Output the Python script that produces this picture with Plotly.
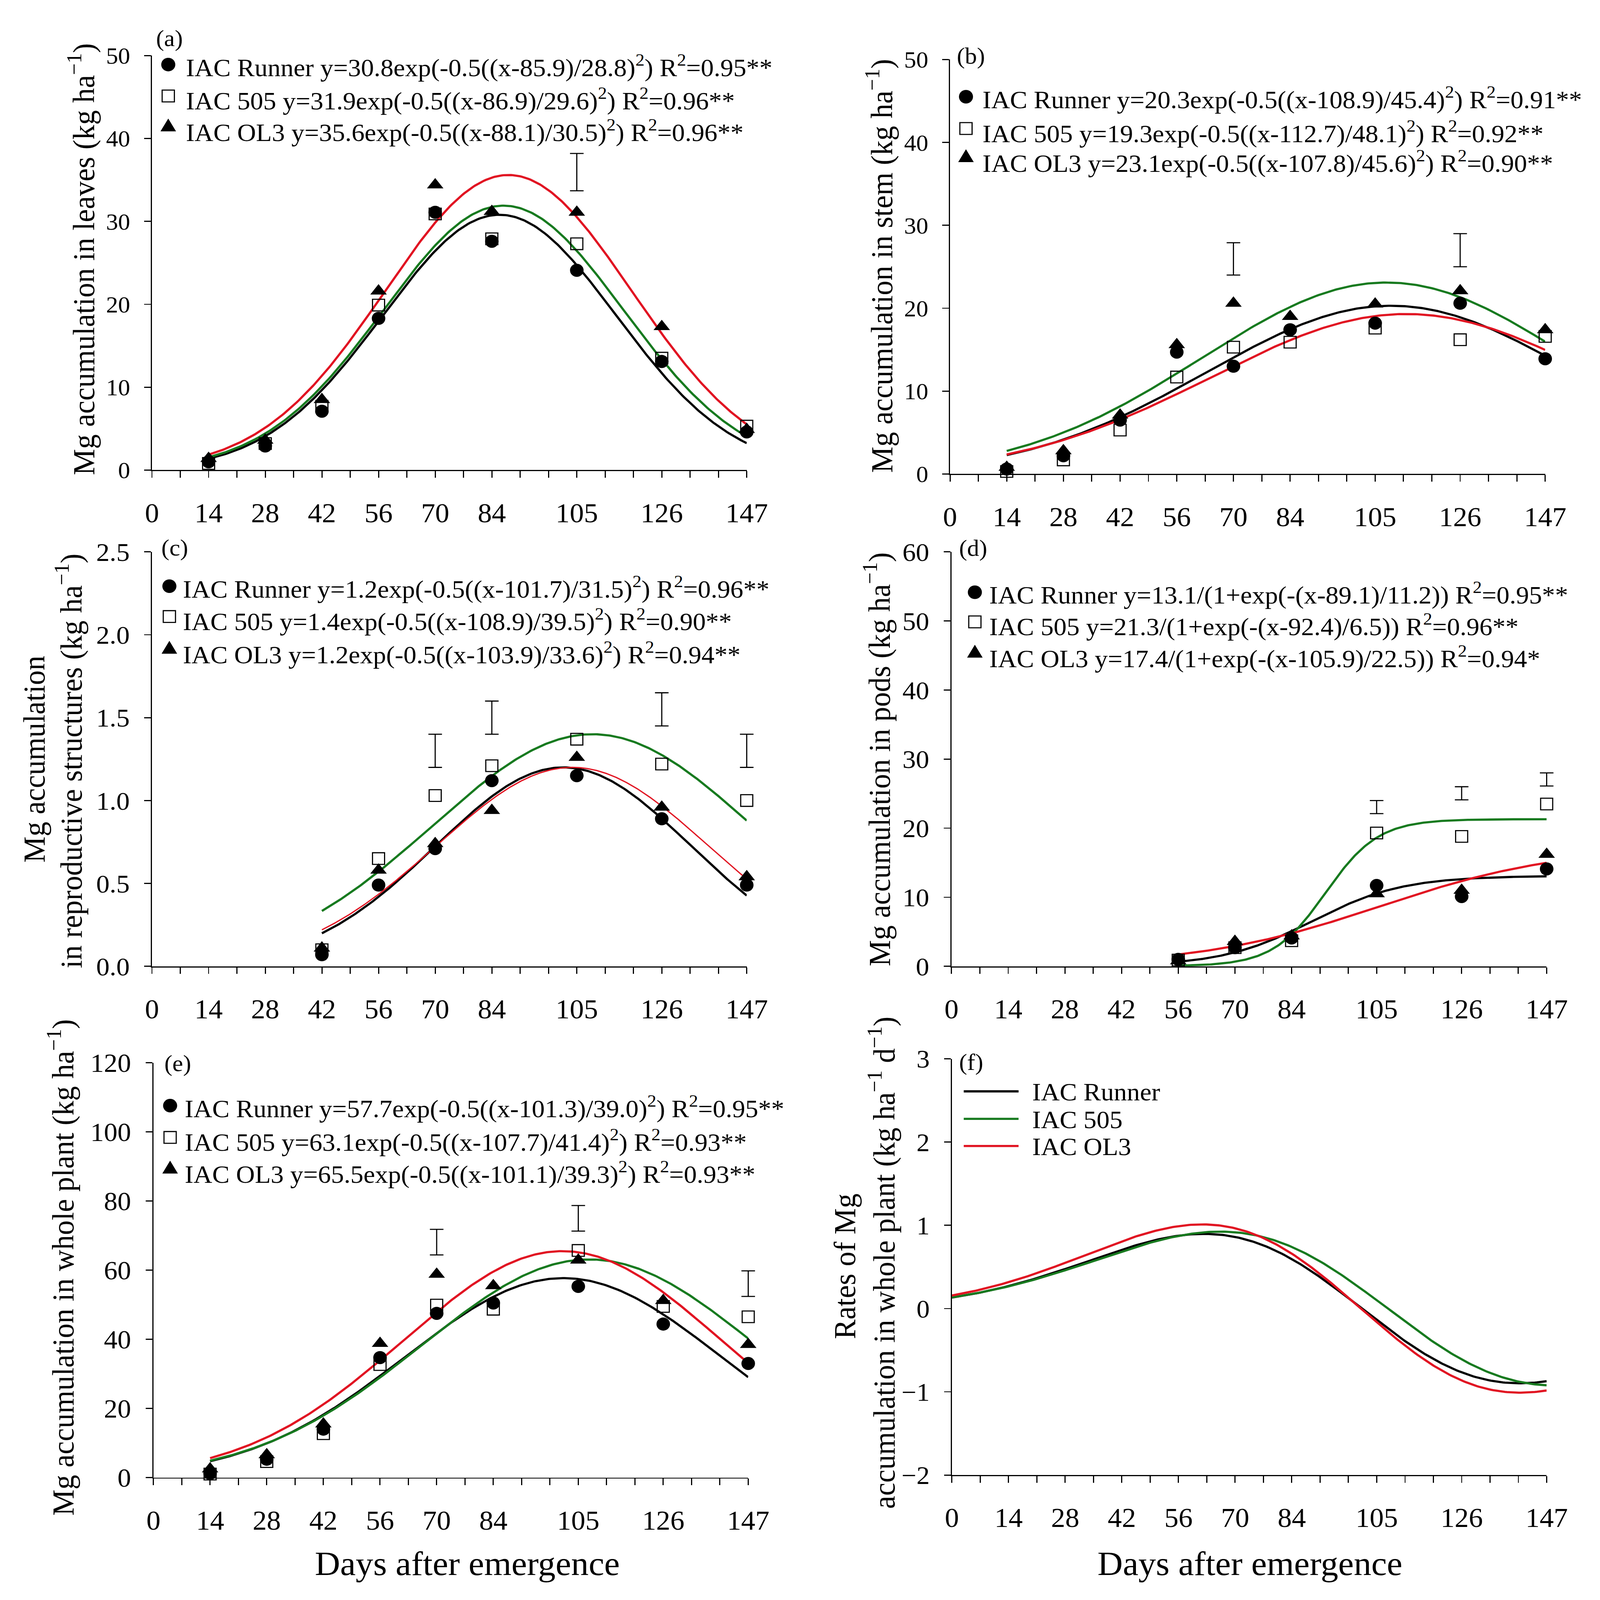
import numpy as np
import plotly.graph_objects as go

# ---------------------------------------------------------------- data
DAYS = [14, 28, 42, 56, 70, 84, 105, 126, 147]
DAYS_C = [42, 56, 70, 84, 105, 126, 147]
DAYS_D = [56, 70, 84, 105, 126, 147]
X_TICKS = [0, 14, 28, 42, 56, 70, 84, 105, 126, 147]
X_TICK_LABELS = ["0", "14", "28", "42", "56", "70", "84", "105", "126", "147"]

# (a) leaves
A_RUNNER = [1.0, 2.9, 7.1, 18.3, 31.1, 27.6, 24.1, 13.1, 4.6]
A_505 = [0.8, 3.2, 7.7, 19.9, 30.9, 27.9, 27.3, 13.5, 5.3]
A_OL3 = [1.4, 3.6, 8.5, 21.6, 34.4, 31.2, 31.1, 17.3, 4.9]
A_LSD_X = [105]
A_LSD_LO = [33.7]
A_LSD_HI = [38.2]

# (b) stem
B_RUNNER = [0.6, 2.2, 6.5, 14.7, 13.0, 17.4, 18.2, 20.6, 13.9]
B_505 = [0.3, 1.7, 5.3, 11.7, 15.3, 15.9, 17.6, 16.2, 16.6]
B_OL3 = [0.8, 2.8, 7.1, 15.6, 20.6, 19.0, 20.5, 22.1, 17.4]
B_LSD_X = [70, 126]
B_LSD_LO = [24.0, 25.0]
B_LSD_HI = [27.9, 29.0]

# (c) reproductive structures
C_RUNNER = [0.07, 0.49, 0.71, 1.12, 1.15, 0.89, 0.49]
C_505 = [0.10, 0.65, 1.03, 1.21, 1.37, 1.22, 1.00]
C_OL3 = [0.11, 0.58, 0.74, 0.94, 1.26, 0.96, 0.54]
C_LSD_X = [70, 84, 126, 147]
C_LSD_LO = [1.20, 1.40, 1.45, 1.20]
C_LSD_HI = [1.40, 1.60, 1.65, 1.40]

# (d) pods
D_RUNNER = [1.0, 2.7, 4.1, 11.7, 10.1, 14.1]
D_505 = [0.9, 2.7, 3.7, 19.3, 18.8, 23.5]
D_OL3 = [0.8, 3.6, 4.4, 10.5, 11.0, 16.2]
D_LSD_X = [105, 126, 147]
D_LSD_LO = [22.1, 24.1, 26.1]
D_LSD_HI = [24.0, 26.0, 28.0]

# (e) whole plant
E_RUNNER = [1.2, 5.3, 14.0, 34.7, 47.5, 50.5, 55.3, 44.4, 33.0]
E_505 = [1.0, 4.6, 12.7, 32.7, 49.9, 48.7, 65.7, 49.5, 46.5]
E_OL3 = [2.5, 6.6, 15.5, 38.8, 58.8, 55.5, 62.9, 51.2, 38.5]
E_LSD_X = [70, 105, 147]
E_LSD_LO = [64.4, 71.3, 52.4]
E_LSD_HI = [71.8, 78.7, 59.8]

# fitted-model parameters (amplitude, centre, width), as printed in each panel's legend
FIT_A = {"Runner": [30.8, 85.9, 28.8], "505": [31.9, 86.9, 29.6], "OL3": [35.6, 88.1, 30.5]}
FIT_B = {"Runner": [20.3, 108.9, 45.4], "505": [19.3, 112.7, 48.1], "OL3": [23.1, 107.8, 45.6]}
FIT_C = {"Runner": [1.2, 101.7, 31.5], "505": [1.4, 108.9, 39.5], "OL3": [1.2, 103.9, 33.6]}
FIT_D = {"Runner": [13.1, 89.1, 11.2], "505": [21.3, 92.4, 6.5], "OL3": [17.4, 105.9, 22.5]}
FIT_E = {"Runner": [57.7, 101.3, 39.0], "505": [63.1, 107.7, 41.4], "OL3": [65.5, 101.1, 39.3]}

LEG_A = ["IAC Runner y=30.8exp(-0.5((x-85.9)/28.8)<sup>2</sup>) R<sup>2</sup>=0.95**",
         "IAC 505 y=31.9exp(-0.5((x-86.9)/29.6)<sup>2</sup>) R<sup>2</sup>=0.96**",
         "IAC OL3 y=35.6exp(-0.5((x-88.1)/30.5)<sup>2</sup>) R<sup>2</sup>=0.96**"]
LEG_B = ["IAC Runner y=20.3exp(-0.5((x-108.9)/45.4)<sup>2</sup>) R<sup>2</sup>=0.91**",
         "IAC 505 y=19.3exp(-0.5((x-112.7)/48.1)<sup>2</sup>) R<sup>2</sup>=0.92**",
         "IAC OL3 y=23.1exp(-0.5((x-107.8)/45.6)<sup>2</sup>) R<sup>2</sup>=0.90**"]
LEG_C = ["IAC Runner y=1.2exp(-0.5((x-101.7)/31.5)<sup>2</sup>) R<sup>2</sup>=0.96**",
         "IAC 505 y=1.4exp(-0.5((x-108.9)/39.5)<sup>2</sup>) R<sup>2</sup>=0.90**",
         "IAC OL3 y=1.2exp(-0.5((x-103.9)/33.6)<sup>2</sup>) R<sup>2</sup>=0.94**"]
LEG_D = ["IAC Runner y=13.1/(1+exp(-(x-89.1)/11.2)) R<sup>2</sup>=0.95**",
         "IAC 505 y=21.3/(1+exp(-(x-92.4)/6.5)) R<sup>2</sup>=0.96**",
         "IAC OL3 y=17.4/(1+exp(-(x-105.9)/22.5)) R<sup>2</sup>=0.94*"]
LEG_E = ["IAC Runner y=57.7exp(-0.5((x-101.3)/39.0)<sup>2</sup>) R<sup>2</sup>=0.95**",
         "IAC 505 y=63.1exp(-0.5((x-107.7)/41.4)<sup>2</sup>) R<sup>2</sup>=0.93**",
         "IAC OL3 y=65.5exp(-0.5((x-101.1)/39.3)<sup>2</sup>) R<sup>2</sup>=0.93**"]
LEG_F = ["IAC Runner", "IAC 505", "IAC OL3"]

# ---------------------------------------------------------------- style
W, H = 4244, 4397
FONT = "Liberation Serif"
BLACK, GREEN, RED = "#000000", "#177a1f", "#e11422"
LW = 6
LEG_FONT = 69


def gauss(p, x):
    a, b, c = p
    return a * np.exp(-0.5 * ((x - b) / c) ** 2)


def gauss_rate(p, x):
    a, b, c = p
    return -a * (x - b) / c ** 2 * np.exp(-0.5 * ((x - b) / c) ** 2)


def logistic(p, x):
    a, b, c = p
    return a / (1 + np.exp(-(x - b) / c))


def px(x):
    return x / W


def py(y):
    return 1 - y / H


fig = go.Figure()

# panel geometry in pixels: x0, x1, ytop, ybottom ; y tick font size
PANELS = {
    "a": dict(n=1, box=(391, 1997, 116, 1276), yr=[0, 50], dt=10, yf=64),
    "b": dict(n=2, box=(2546, 4153, 127, 1287), yr=[0, 50], dt=10, yf=64),
    "c": dict(n=3, box=(391, 1997, 1505, 2665), yr=[0, 2.5], dt=0.5, yf=71),
    "d": dict(n=4, box=(2550, 4157, 1505, 2665), yr=[0, 60], dt=10, yf=71),
    "e": dict(n=5, box=(395, 2001, 2935, 4096), yr=[0, 120], dt=20, yf=72),
    "f": dict(n=6, box=(2551, 4157, 2924, 4089), yr=[-2, 3], dt=1, yf=70),
}
EXTRA = 70  # px of unclipped room to the right for the LSD bars


def axref(n):
    return ("x" if n == 1 else f"x{n}"), ("y" if n == 1 else f"y{n}")


def add_curve(n, x, y, color, width=LW):
    xa, ya = axref(n)
    fig.add_trace(go.Scatter(x=x, y=y, mode="lines", line=dict(color=color, width=width),
                             xaxis=xa, yaxis=ya, showlegend=False, hoverinfo="skip"))


def add_points(n, days, runner, c505, ol3):
    xa, ya = axref(n)
    fig.add_trace(go.Scatter(x=days, y=runner, mode="markers", xaxis=xa, yaxis=ya,
                             marker=dict(symbol="circle", size=36, color=BLACK),
                             cliponaxis=False, showlegend=False))
    fig.add_trace(go.Scatter(x=days, y=c505, mode="markers", xaxis=xa, yaxis=ya,
                             marker=dict(symbol="square-open", size=32, color=BLACK,
                                         line=dict(width=3, color=BLACK)),
                             cliponaxis=False, showlegend=False))
    fig.add_trace(go.Scatter(x=days, y=ol3, mode="markers", xaxis=xa, yaxis=ya,
                             marker=dict(symbol="triangle-up", size=38, color=BLACK),
                             cliponaxis=False, showlegend=False))


def add_lsd(n, xs, lo, hi):
    _, ya = axref(n)
    mid = [(l + h) / 2 for l, h in zip(lo, hi)]
    half = [(h - l) / 2 for l, h in zip(lo, hi)]
    fig.add_trace(go.Scatter(x=xs, y=mid, mode="markers", xaxis=f"x{n + 6}", yaxis=ya,
                             marker=dict(size=1, color="rgba(0,0,0,0)"),
                             error_y=dict(type="data", array=half, visible=True,
                                          color=BLACK, thickness=3, width=18),
                             cliponaxis=False, showlegend=False, hoverinfo="skip"))


# (a)
xa_ = np.linspace(14, 147, 300)
add_curve(1, xa_, gauss(FIT_A["Runner"], xa_), BLACK)
add_curve(1, xa_, gauss(FIT_A["505"], xa_), GREEN)
add_curve(1, xa_, gauss(FIT_A["OL3"], xa_), RED)
add_points(1, DAYS, A_RUNNER, A_505, A_OL3)
add_lsd(1, A_LSD_X, A_LSD_LO, A_LSD_HI)

# (b)  (as drawn: green line follows the OL3 equation, red the 505 one)
add_curve(2, xa_, gauss(FIT_B["Runner"], xa_), BLACK)
add_curve(2, xa_, gauss(FIT_B["505"], xa_), RED)
add_curve(2, xa_, gauss(FIT_B["OL3"], xa_), GREEN)
add_points(2, DAYS, B_RUNNER, B_505, B_OL3)
add_lsd(2, B_LSD_X, B_LSD_LO, B_LSD_HI)

# (c)
xc_ = np.linspace(42, 147, 300)
add_curve(3, xc_, gauss(FIT_C["505"], xc_), GREEN)
add_curve(3, xc_, gauss(FIT_C["Runner"], xc_), BLACK)
add_curve(3, xc_, gauss(FIT_C["OL3"], xc_), RED, width=3.5)
add_points(3, DAYS_C, C_RUNNER, C_505, C_OL3)
add_lsd(3, C_LSD_X, C_LSD_LO, C_LSD_HI)

# (d)
xd_ = np.linspace(56, 147, 300)
add_curve(4, xd_, logistic(FIT_D["Runner"], xd_), BLACK)
add_curve(4, xd_, logistic(FIT_D["505"], xd_), GREEN)
add_curve(4, xd_, logistic(FIT_D["OL3"], xd_), RED)
add_points(4, DAYS_D, D_RUNNER, D_505, D_OL3)
add_lsd(4, D_LSD_X, D_LSD_LO, D_LSD_HI)

# (e)
add_curve(5, xa_, gauss(FIT_E["Runner"], xa_), BLACK)
add_curve(5, xa_, gauss(FIT_E["505"], xa_), GREEN)
add_curve(5, xa_, gauss(FIT_E["OL3"], xa_), RED)
add_points(5, DAYS, E_RUNNER, E_505, E_OL3)
add_lsd(5, E_LSD_X, E_LSD_LO, E_LSD_HI)

# (f) daily rates = derivative of the whole-plant models of (e)
xf_ = np.linspace(0, 147, 300)
add_curve(6, xf_, gauss_rate(FIT_E["Runner"], xf_), BLACK)
add_curve(6, xf_, gauss_rate(FIT_E["505"], xf_), GREEN)
add_curve(6, xf_, gauss_rate(FIT_E["OL3"], xf_), RED)

# ---------------------------------------------------------------- axes
layout = dict(width=W, height=H, margin=dict(l=0, r=0, t=0, b=0),
              paper_bgcolor="white", plot_bgcolor="rgba(0,0,0,0)", showlegend=False,
              font=dict(family=FONT, color=BLACK))
for key, p in PANELS.items():
    n = p["n"]
    x0, x1, yt, yb = p["box"]
    sx = "xaxis" if n == 1 else f"xaxis{n}"
    sy = "yaxis" if n == 1 else f"yaxis{n}"
    xa, ya = axref(n)
    layout[sx] = dict(domain=[px(x0), px(x1)], anchor=ya, range=[0, 147],
                      tickmode="array", tickvals=X_TICKS, ticktext=X_TICK_LABELS,
                      ticks="outside", ticklen=18, tickwidth=3, tickcolor=BLACK,
                      minor=dict(tick0=0, dtick=7, ticks="outside", ticklen=18,
                                 tickwidth=3, tickcolor=BLACK),
                      showline=True, linecolor=BLACK, linewidth=3,
                      showgrid=False, zeroline=False,
                      tickfont=dict(family=FONT, size=75, color=BLACK),
                      ticklabelstandoff=32)
    layout[sy] = dict(domain=[py(yb), py(yt)], anchor=xa, range=p["yr"],
                      tick0=p["yr"][0], dtick=p["dt"],
                      ticks="outside", ticklen=18, tickwidth=3, tickcolor=BLACK,
                      showline=True, linecolor=BLACK, linewidth=3,
                      showgrid=False, zeroline=False,
                      tickfont=dict(family=FONT, size=p["yf"], color=BLACK),
                      ticklabelstandoff=24)
    if key == "c":
        layout[sy]["tickformat"] = ".1f"
    # hidden twin x-axis with the same scale but extra room, for unclipped LSD bars
    layout[f"xaxis{n + 6}"] = dict(domain=[px(x0), px(x1 + EXTRA)], anchor=ya,
                                   range=[0, 147 * (x1 + EXTRA - x0) / (x1 - x0)],
                                   visible=False, showgrid=False, zeroline=False)
fig.update_layout(**layout)

# ---------------------------------------------------------------- text
ann = []


def text(x, y, s, size, angle=0, xanchor="center"):
    ann.append(dict(x=px(x), y=py(y), xref="paper", yref="paper", text=s,
                    showarrow=False, textangle=angle, xanchor=xanchor, yanchor="middle",
                    font=dict(family=FONT, size=size, color=BLACK)))


# panel letters
for lab, (x, y) in {"(a)": (400, 68), "(b)": (2562, 117), "(c)": (414, 1494),
                    "(d)": (2568, 1495), "(e)": (422, 2936), "(f)": (2568, 2933)}.items():
    text(x, y, lab, 64, xanchor="left")

# y titles
YT = 81
text(201, 686, "Mg accumulation in leaves (kg ha<sup>−1</sup>)", YT, -90)
text(2355, 704, "Mg accumulation in stem (kg ha<sup>−1</sup>)", YT, -90)
text(73, 2085, "Mg accumulation", YT, -90)
text(167, 2090, "in reproductive structures (kg ha<sup>−1</sup>)", YT, -90)
text(2349, 2085, "Mg accumulation in pods (kg ha<sup>−1</sup>)", YT, -90)
text(145, 3508, "Mg accumulation in whole plant (kg ha<sup>−1</sup>)", YT, -90)
text(2262, 3505, "Rates of Mg", YT, -90)
text(2362, 3495, "accumulation in whole plant (kg ha<sup>−1</sup> d<sup>−1</sup>)", YT, -90)

# x titles
text(1242, 4336, "Days after emergence", 93)
text(3356, 4336, "Days after emergence", 93)

# legends: (labels, marker x, text x, row centres)
LEGENDS = [
    (LEG_A, 435, 480, [144, 238, 326]),
    (LEG_B, 2589, 2631, [234, 329, 412]),
    (LEG_C, 438, 472, [1604, 1695, 1788]),
    (LEG_D, 2613, 2650, [1621, 1710, 1799]),
    (LEG_E, 440, 477, [3058, 3153, 3243]),
]
MARK_DY = [-3, -9, -15]
shapes = []
for labels, mx, tx, rows in LEGENDS:
    for i, (lab, ry) in enumerate(zip(labels, rows)):
        text(tx, ry, lab, LEG_FONT, xanchor="left")
        my = ry + MARK_DY[i]
        if i == 0:
            r = 19
            shapes.append(dict(type="circle", xref="paper", yref="paper",
                               x0=px(mx - r), x1=px(mx + r), y0=py(my + r), y1=py(my - r),
                               fillcolor=BLACK, line=dict(width=0)))
        elif i == 1:
            r = 16.5
            shapes.append(dict(type="rect", xref="paper", yref="paper",
                               x0=px(mx - r), x1=px(mx + r), y0=py(my + r), y1=py(my - r),
                               fillcolor="rgba(0,0,0,0)", line=dict(width=3, color=BLACK)))
        else:
            path = (f"M {px(mx - 21)} {py(my + 17)} L {px(mx + 21)} {py(my + 17)} "
                    f"L {px(mx)} {py(my - 19)} Z")
            shapes.append(dict(type="path", xref="paper", yref="paper", path=path,
                               fillcolor=BLACK, line=dict(width=0)))

for lab, ry, col in zip(LEG_F, [3015, 3092, 3168], [BLACK, GREEN, RED]):
    text(2766, ry + 2, lab, LEG_FONT, xanchor="left")
    shapes.append(dict(type="line", xref="paper", yref="paper",
                       x0=px(2583), x1=px(2731), y0=py(ry), y1=py(ry),
                       line=dict(color=col, width=LW)))

fig.update_layout(annotations=ann, shapes=shapes)

# fit the 4244x4397 figure to whatever viewport the browser really has
FIT_JS = """
var gd = document.getElementById('{plot_id}');
document.documentElement.style.overflow = 'hidden';
document.body.style.margin = '0';
document.body.style.overflow = 'hidden';
var sx = window.innerWidth / 4244, sy = window.innerHeight / 4397;
gd.style.transformOrigin = '0 0';
gd.style.transform = 'scale(' + sx + ',' + sy + ')';
"""
fig.write_html("out.html", post_script=FIT_JS, config={"displayModeBar": False})
